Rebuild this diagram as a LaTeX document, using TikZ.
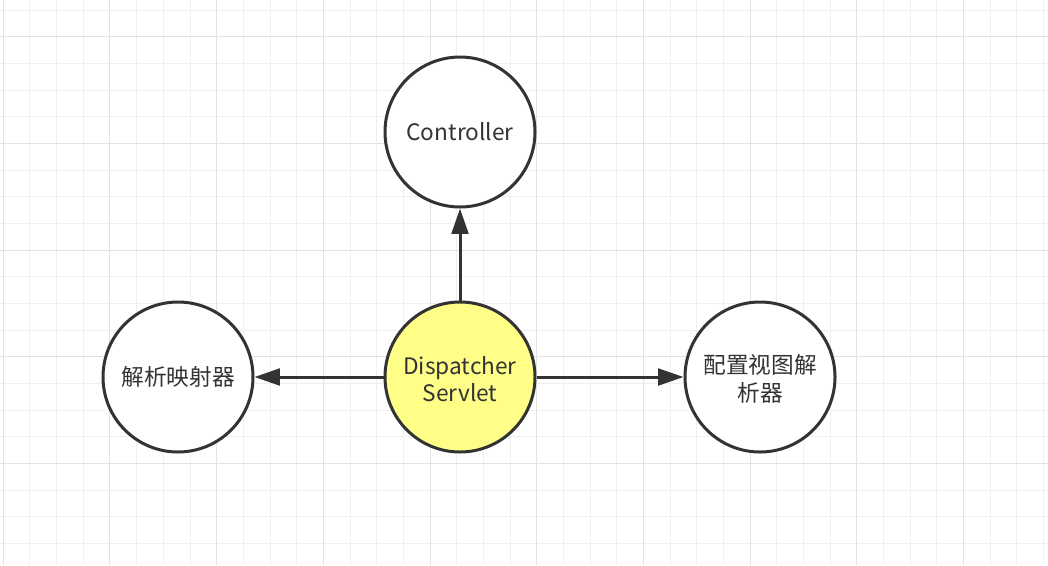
\documentclass[tikz,border=0pt]{standalone}
\usepackage{fontspec}
\setmainfont{Noto Sans CJK SC}
\usetikzlibrary{arrows.meta}
\definecolor{minorgrid}{HTML}{EFEFEF}
\definecolor{majorgrid}{HTML}{E2E2E2}
\definecolor{ink}{HTML}{333333}
\definecolor{yel}{HTML}{FFFF88}
\begin{document}
\begin{tikzpicture}[x=0.75pt,y=-0.75pt,
  circ/.style={circle,draw=ink,line width=2.25pt,inner sep=0pt,minimum size=112.5pt,
    fill=white,text=ink,font=\fontsize{17pt}{20.5pt}\selectfont,align=center},
  conn/.style={draw=ink,line width=2.25pt,-{Triangle[length=19pt,width=12.5pt]}}]
\useasboundingbox (0,0) rectangle (1048,565);
\fill[white] (0,0) rectangle (1048,565);
\foreach \i in {0,...,39} {\draw[minorgrid,line width=0.75pt] ({3.33+\i*26.667},0) -- ({3.33+\i*26.667},565);}
\foreach \i in {0,...,21} {\draw[minorgrid,line width=0.75pt] (0,{10+\i*26.667}) -- (1048,{10+\i*26.667});}
\foreach \i in {0,...,9} {\draw[majorgrid,line width=0.75pt] ({3.33+\i*106.667},0) -- ({3.33+\i*106.667},565);}
\foreach \i in {0,...,5} {\draw[majorgrid,line width=0.75pt] (0,{36.67+\i*106.667}) -- (1048,{36.67+\i*106.667});}
\node[circ] (ctrl) at (460,132) {Controller};
\node[circ,fill=yel] (ds) at (460,377) {};
\node[text=ink,font=\fontsize{17pt}{20.5pt}\selectfont,align=center] (dslabel) at (460,379) {Dispatcher\\Servlet};
\node[circ] (map) at (178,377) {解析映射器};
\node[circ] (view) at (760,377) {};
\node[text=ink,font=\fontsize{17pt}{20.5pt}\selectfont,align=center] (viewlabel) at (760,379) {配置视图解\\析器};
\draw[conn] (ds) -- (ctrl);
\draw[conn] (ds) -- (map);
\draw[conn] (ds) -- (view);
\end{tikzpicture}
\end{document}
